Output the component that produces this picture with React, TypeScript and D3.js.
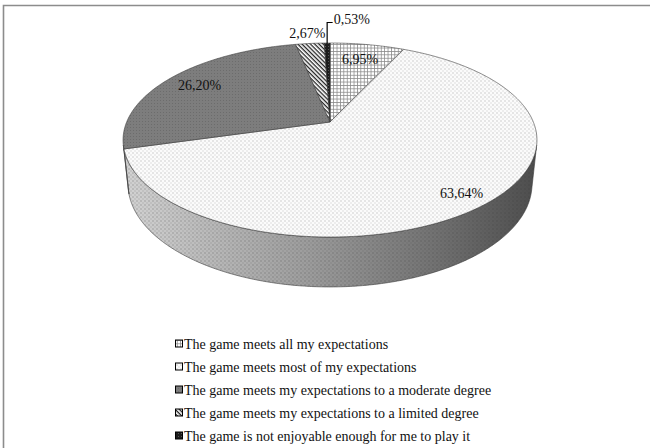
import React from 'react';
import * as d3 from 'd3';

// Survey answers, clockwise from twelve o'clock
const categories = [
  'The game meets all my expectations',
  'The game meets most of my expectations',
  'The game meets my expectations to a moderate degree',
  'The game meets my expectations to a limited degree',
  'The game is not enjoyable enough for me to play it',
];
const shares = [6.95, 63.64, 26.2, 2.67, 0.53];
const valueLabels = ['6,95%', '63,64%', '26,20%', '2,67%', '0,53%'];

// Per-slice fill pattern ids and label radius (fraction of pie radius)
const fills = ['url(#pAll)', 'url(#pMost)', 'url(#pModerate)', 'url(#pLimited)', 'url(#pNone)'];
const labelRadius = [0.78, 0.875, 0.81, 1.15, 1];

const W = 650;
const H = 448;
const FONT = '"Liberation Serif", "Times New Roman", serif';

// Perspective camera looking down on a flat cylinder of unit radius
const CX = 330;
const CY = 122;
const TILT = Math.asin(0.4606);
const S = Math.sin(TILT);
const C = Math.cos(TILT);
const DIST = 4.78;
const FOCAL = 972;
const THICK = 0.247;

function project(theta: number, r: number, h: number): [number, number] {
  const x3 = r * Math.sin(theta);
  const z3 = -r * Math.cos(theta);
  const relY = -h - DIST * S;
  const relZ = z3 - DIST * C;
  const depth = -relY * S - relZ * C;
  const v = relY * C - relZ * S;
  return [CX + (FOCAL * x3) / depth, CY - (FOCAL * v) / depth];
}

function arcPoints(a0: number, a1: number, r: number, h: number) {
  const n = Math.max(2, Math.ceil(Math.abs(a1 - a0) / 0.01));
  return d3.range(n + 1).map((i) => project(a0 + ((a1 - a0) * i) / n, r, h));
}

const line = d3.line<[number, number]>();

// The outer wall faces the camera only on this angular range
const VIS0 = Math.acos(-1 / (DIST * C));
const VIS1 = 2 * Math.PI - VIS0;

export default function App() {
  const arcs = d3
    .pie<number>()
    .sort(null)
    .startAngle(0)
    .endAngle(2 * Math.PI)(shares);

  const walls = arcs
    .map((a, i) => {
      const a0 = Math.max(a.startAngle, VIS0);
      const a1 = Math.min(a.endAngle, VIS1);
      if (a1 <= a0) return null;
      const top = arcPoints(a0, a1, 1, 0);
      const bottom = arcPoints(a1, a0, 1, THICK);
      return { i, d: line([...top, ...bottom])! + 'Z' };
    })
    .filter(Boolean) as { i: number; d: string }[];

  const faces = arcs.map((a, i) => {
    const pts: [number, number][] = [[CX, CY], ...arcPoints(a.startAngle, a.endAngle, 1, 0)];
    return { i, d: line(pts)! + 'Z' };
  });

  const labels = arcs.map((a, i) => {
    const mid = (a.startAngle + a.endAngle) / 2;
    return { i, mid, p: project(mid, labelRadius[i], 0) };
  });

  const legendY0 = 344;
  const legendStep = 23;

  return (
    <svg
      width={W}
      height={H}
      style={{ position: 'absolute', left: 0, top: 0, background: '#fff' }}
      fontFamily={FONT}
    >
      <defs>
        <pattern id="pAll" width="3.4" height="3.4" patternUnits="userSpaceOnUse">
          <rect width="3.4" height="3.4" fill="#fff" />
          <path d="M0,0.4H3.4M0.4,0V3.4" stroke="#8a8a8a" strokeWidth="0.8" />
        </pattern>
        <pattern id="pMost" width="4" height="4" patternUnits="userSpaceOnUse">
          <rect width="4" height="4" fill="#fbfbfb" />
          <rect x="0.5" y="0.5" width="1" height="1" fill="#a4a4a4" />
          <rect x="2.5" y="2.5" width="1" height="1" fill="#c4c4c4" />
        </pattern>
        <pattern id="pModerate" width="3" height="3" patternUnits="userSpaceOnUse">
          <rect width="3" height="3" fill="#7d7d7d" />
          <rect x="1" y="1" width="1" height="1" fill="#6c6c6c" />
        </pattern>
        <pattern
          id="pLimited"
          width="3"
          height="3"
          patternUnits="userSpaceOnUse"
          patternTransform="rotate(45)"
        >
          <rect width="3" height="3" fill="#fff" />
          <rect width="3" height="1.3" fill="#222" />
        </pattern>
        <pattern id="pNone" width="3" height="3" patternUnits="userSpaceOnUse">
          <rect width="3" height="3" fill="#1c1c1c" />
          <rect x="1" y="1" width="1" height="1" fill="#555" />
        </pattern>
        <pattern id="pWallDots" width="4" height="4" patternUnits="userSpaceOnUse">
          <rect x="0.5" y="0.5" width="1" height="1" fill="#333" opacity="0.55" />
          <rect x="2.5" y="2.5" width="1" height="1" fill="#444" opacity="0.35" />
        </pattern>
        <linearGradient id="wallShade" gradientUnits="userSpaceOnUse" x1="120" x2="540" y1="0" y2="0">
          <stop offset="0" stopColor="#d4d4d4" />
          <stop offset="0.45" stopColor="#9c9c9c" />
          <stop offset="0.75" stopColor="#727272" />
          <stop offset="1" stopColor="#4c4c4c" />
        </linearGradient>
      </defs>

      {/* frame: top and left rules */}
      <path d="M3.5,448V5.5H650" fill="none" stroke="#8c8c8c" strokeWidth={1.6} />

      {/* outer wall of the pie */}
      {walls.map((w) => (
        <g key={'w' + w.i}>
          <path d={w.d} fill="url(#wallShade)" />
          <path d={w.d} fill="url(#pWallDots)" stroke="#3a3a3a" strokeWidth={0.6} />
        </g>
      ))}

      {/* top faces */}
      {faces.map((f) => (
        <path key={'f' + f.i} d={f.d} fill={fills[f.i]} stroke="#3c3c3c" strokeWidth={0.6} />
      ))}

      {/* value labels */}
      {labels.map(({ i, mid, p }) => {
        if (i === 4) {
          const edge = project(mid, 1, 0);
          const topY = edge[1] - 20.5;
          return (
            <g key={'l' + i}>
              <path
                d={`M${edge[0]},${edge[1]}V${topY}H${edge[0] + 5.5}`}
                fill="none"
                stroke="#000"
                strokeWidth={1.2}
              />
              <text x={edge[0] + 6.5} y={topY + 1} fontSize={14} fill="#111">
                {valueLabels[i]}
              </text>
            </g>
          );
        }
        return (
          <text key={'l' + i} x={p[0]} y={p[1] + 4.7} fontSize={14} textAnchor="middle" fill="#111">
            {valueLabels[i]}
          </text>
        );
      })}

      {/* legend */}
      {categories.map((c, i) => {
        const y = legendY0 + i * legendStep;
        return (
          <g key={'g' + i}>
            <rect x={175.5} y={y - 4} width={7} height={7} fill={fills[i]} stroke="#000" strokeWidth={1} />
            <text x={184} y={y + 4.6} fontSize={14} fill="#111">
              {c}
            </text>
          </g>
        );
      })}
    </svg>
  );
}
